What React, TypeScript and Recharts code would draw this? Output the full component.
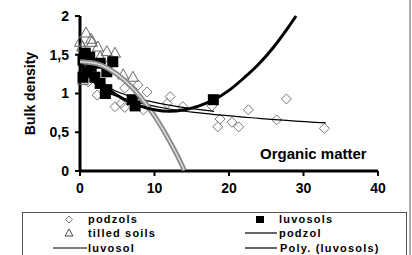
import { ScatterChart, Scatter, XAxis, YAxis } from 'recharts';

// measured points
const podzolsX = [0.5, 1.1, 2.3, 3.0, 4.7, 5.5, 6.0, 6.0, 7.8, 8.5, 9.0, 11.7, 12.1, 13.8, 17.7, 18.5, 18.8, 20.4, 21.3, 22.6, 26.4, 27.7, 32.8];
const podzolsY = [1.25, 1.15, 0.98, 1.1, 0.83, 0.87, 0.82, 1.07, 1.11, 0.79, 1.02, 0.87, 0.96, 0.83, 0.84, 0.57, 0.67, 0.63, 0.57, 0.79, 0.66, 0.93, 0.55];

const tilledX = [0.0, 0.3, 0.8, 1.6, 2.4, 3.6, 4.7, 2.7, 4.0, 1.1, 0.4, 5.8, 7.1, 1.5, 0.5];
const tilledY = [1.66, 1.6, 1.78, 1.66, 1.6, 1.54, 1.52, 1.47, 1.41, 1.28, 1.17, 1.24, 1.21, 1.7, 1.45];

const luvosolsX = [0.7, 1.3, 0.4, 2.7, 4.4, 0.9, 2.0, 2.7, 3.6, 3.4, 3.6, 0.4, 7.0, 7.4, 1.5, 17.9];
const luvosolsY = [1.52, 1.47, 1.43, 1.39, 1.41, 1.28, 1.21, 1.13, 1.05, 1.0, 1.28, 1.21, 0.92, 0.84, 1.35, 0.92];

// trend curves
const polyX = [0, 2, 4, 6, 8, 10, 12, 14, 16, 18, 20, 22, 24, 26, 28, 29];
const polyY = [1.38, 1.2, 1.04, 0.92, 0.84, 0.79, 0.77, 0.79, 0.84, 0.92, 1.04, 1.2, 1.38, 1.6, 1.86, 2.0];

const tilledTrendX = [0, 2, 4, 6, 8, 10, 12, 13, 14];
const tilledTrendY = [1.41, 1.39, 1.31, 1.17, 0.97, 0.71, 0.39, 0.21, 0.01];

const podzolTrendX = [0.5, 1, 2, 3, 4, 6, 8, 12, 16, 24, 33];
const podzolTrendY = [1.37, 1.25, 1.13, 1.05, 1.0, 0.93, 0.88, 0.8, 0.75, 0.68, 0.62];

const luvosolTrendX = [0.5, 1, 2, 4, 8, 12, 18];
const luvosolTrendY = [1.49, 1.35, 1.21, 1.07, 0.93, 0.85, 0.77];

const xTicks = [0, 10, 20, 30, 40];
const yTicks = [0, 0.5, 1, 1.5, 2];

const pts = (xs: number[], ys: number[]) => xs.map((x, i) => ({ x, y: ys[i] }));

const font = 'Arial, "Liberation Sans", sans-serif';

const Diamond = (p: any) => (
  <path d={`M${p.cx},${p.cy - 5}L${p.cx + 5},${p.cy}L${p.cx},${p.cy + 5}L${p.cx - 5},${p.cy}Z`} fill="none" stroke="#777" strokeWidth={1} />
);
const Triangle = (p: any) => (
  <path d={`M${p.cx},${p.cy - 6}L${p.cx + 5.5},${p.cy + 4}L${p.cx - 5.5},${p.cy + 4}Z`} fill="none" stroke="#666" strokeWidth={1} />
);
const Square = (p: any) => <rect x={p.cx - 5.5} y={p.cy - 5.5} width={11} height={11} fill="#000" />;
const NoDot = () => <g />;

const tickStyle = { fill: '#000', fontSize: 14, fontWeight: 'bold', fontFamily: font };

const legendText = { fontSize: 11, fontWeight: 'bold', fontFamily: font, letterSpacing: 1.2 } as const;

export default function App() {
  return (
    <div style={{ position: 'absolute', left: 0, top: 0, width: 412, height: 255, background: '#fff', overflow: 'hidden' }}>
      <ScatterChart width={412} height={255} margin={{ top: 16, right: 34, left: 0, bottom: 54 }}>
        <XAxis
          type="number"
          dataKey="x"
          domain={[0, 40]}
          ticks={xTicks}
          tick={tickStyle}
          tickSize={5}
          tickMargin={7}
          height={30}
          axisLine={{ stroke: '#000', strokeWidth: 3 }}
          tickLine={{ stroke: '#000', strokeWidth: 2 }}
        />
        <YAxis
          type="number"
          dataKey="y"
          domain={[0, 2]}
          ticks={yTicks}
          width={80}
          tick={tickStyle}
          tickSize={5}
          tickMargin={6}
          tickFormatter={(v: number) => String(v).replace('.', ',')}
          axisLine={{ stroke: '#000', strokeWidth: 3 }}
          tickLine={{ stroke: '#000', strokeWidth: 2 }}
          label={{ value: 'Bulk density', angle: -90, position: 'insideLeft', offset: 30, style: { textAnchor: 'middle', fontSize: 14, fontWeight: 'bold', fontFamily: font, fill: '#000' } }}
        />
        <Scatter data={pts(podzolsX, podzolsY)} shape={Diamond} isAnimationActive={false} />
        <Scatter data={pts(tilledX, tilledY)} shape={Triangle} isAnimationActive={false} />
        <Scatter data={pts(luvosolsX, luvosolsY)} shape={Square} isAnimationActive={false} />
        <Scatter data={pts(podzolTrendX, podzolTrendY)} shape={NoDot} line={{ stroke: '#000', strokeWidth: 1.2 }} lineJointType="monotoneX" isAnimationActive={false} />
        <Scatter data={pts(luvosolTrendX, luvosolTrendY)} shape={NoDot} line={{ stroke: '#000', strokeWidth: 1.2 }} lineJointType="monotoneX" isAnimationActive={false} />
        <Scatter data={pts(tilledTrendX, tilledTrendY)} shape={NoDot} line={{ stroke: '#888', strokeWidth: 5 }} lineJointType="monotoneX" isAnimationActive={false} />
        <Scatter data={pts(tilledTrendX, tilledTrendY)} shape={NoDot} line={{ stroke: '#ddd', strokeWidth: 1.5 }} lineJointType="monotoneX" isAnimationActive={false} />
        <Scatter data={pts(polyX, polyY)} shape={NoDot} line={{ stroke: '#000', strokeWidth: 3 }} lineJointType="monotoneX" isAnimationActive={false} />
      </ScatterChart>

      <div style={{ position: 'absolute', left: 260, top: 145, fontSize: 15, fontWeight: 'bold', fontFamily: font }}>Organic matter</div>

      <svg width={412} height={255} style={{ position: 'absolute', left: 0, top: 0 }}>
        <rect x={22.5} y={212.5} width={384} height={50} fill="none" stroke="#555" strokeWidth={1} />
        <rect x={409} y={0} width={2} height={255} fill="#aaa" />
        <path d="M69,216L72.5,219.5L69,223L65.5,219.5Z" fill="none" stroke="#777" />
        <text x={88} y={223} style={legendText}>podzols</text>
        <rect x={256} y={216} width={8} height={7} fill="#000" />
        <text x={279} y={223} style={legendText}>luvosols</text>
        <path d="M69,229L73,236L65,236Z" fill="none" stroke="#444" />
        <text x={88} y={237} style={legendText}>tilled soils</text>
        <line x1={245} x2={277} y1={233} y2={233} stroke="#000" strokeWidth={1.2} />
        <text x={279} y={237} style={legendText}>podzol</text>
        <line x1={53} x2={87} y1={248} y2={248} stroke="#000" strokeWidth={1.2} />
        <text x={88} y={252} style={legendText}>luvosol</text>
        <line x1={245} x2={277} y1={248} y2={248} stroke="#000" strokeWidth={1.2} />
        <text x={280} y={252} style={legendText}>Poly. (luvosols)</text>
      </svg>
    </div>
  );
}
